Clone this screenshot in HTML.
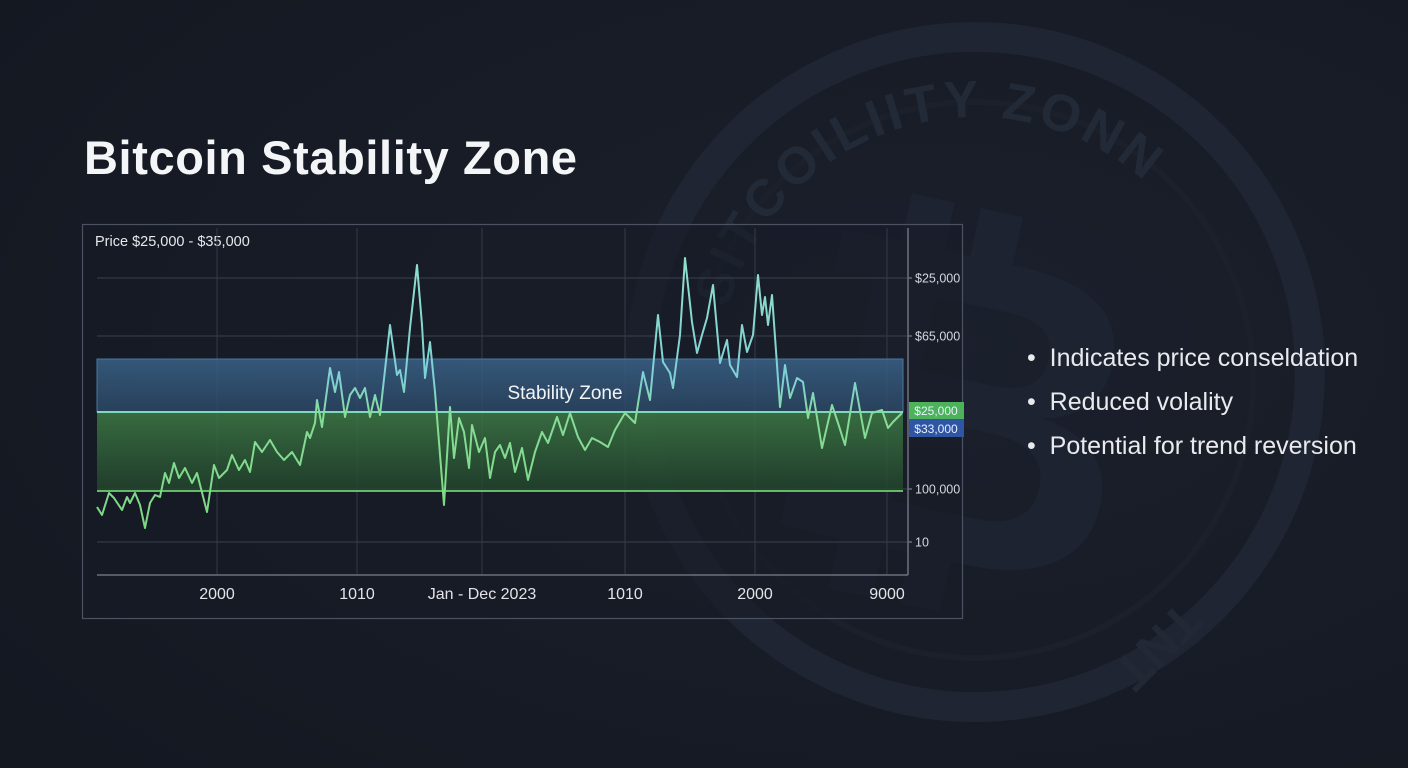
<!DOCTYPE html>
<html><head><meta charset="utf-8">
<style>
html,body{margin:0;padding:0;background:#161b25;width:1408px;height:768px;overflow:hidden;font-family:"Liberation Sans",sans-serif;}
#wrap{position:relative;width:1408px;height:768px;}
</style></head>
<body>
<div id="wrap">
<svg width="1408" height="768" viewBox="0 0 1408 768" style="position:absolute;left:0;top:0">
  <defs>
    <radialGradient id="bg" cx="0.65" cy="0.45" r="0.8">
      <stop offset="0" stop-color="#1b202c"/><stop offset="1" stop-color="#141821"/>
    </radialGradient>
    <linearGradient id="lineGrad" gradientUnits="userSpaceOnUse" x1="0" y1="255" x2="0" y2="530">
      <stop offset="0" stop-color="#8fe0c8"/>
      <stop offset="0.45" stop-color="#7fd0d6"/>
      <stop offset="0.58" stop-color="#86dd98"/>
      <stop offset="1" stop-color="#7cd880"/>
    </linearGradient>
    <linearGradient id="blueZone" x1="0" y1="0" x2="0" y2="1">
      <stop offset="0" stop-color="#3a6288" stop-opacity="0.85"/><stop offset="1" stop-color="#2c4a68" stop-opacity="0.8"/>
    </linearGradient>
    <linearGradient id="greenZone" x1="0" y1="0" x2="0" y2="1">
      <stop offset="0" stop-color="#3d7a45" stop-opacity="0.85"/><stop offset="1" stop-color="#22452c" stop-opacity="0.8"/>
    </linearGradient>
    <path id="arcTop" d="M 720 372 A 255 255 0 0 1 1230 372"/>
  </defs>
  <rect width="1408" height="768" fill="url(#bg)"/>
  <g>
    <circle cx="975" cy="372" r="335" fill="none" stroke="#1f2532" stroke-width="30"/>
    <circle cx="975" cy="380" r="278" fill="none" stroke="#1b202b" stroke-width="6"/>
    <text font-family="Liberation Sans,sans-serif" font-size="52" fill="#232a37" font-weight="bold" letter-spacing="4"><textPath href="#arcTop" startOffset="8%">SITCOILIITY ZONN</textPath></text>
    <text x="1180" y="600" font-size="50" fill="#222935" font-weight="bold" transform="rotate(135 1180 600)">TNT</text>
    <text x="960" y="560" font-size="440" fill="#1d2330" font-weight="bold" text-anchor="middle" transform="rotate(12 960 400)">₿</text>
  </g>
</svg>

<div style="position:absolute;left:84px;top:130px;font-size:47px;font-weight:bold;color:#f4f5f7;letter-spacing:0.6px;">Bitcoin Stability Zone</div>

<svg id="chart" width="1408" height="768" style="position:absolute;left:0;top:0"></svg>

<div style="position:absolute;left:1027px;top:344px;color:#e8eaee;font-size:25px;">
  <div style="height:44px;">•&nbsp;&nbsp;Indicates price conseldation</div>
  <div style="height:44px;">•&nbsp;&nbsp;Reduced volality</div>
  <div style="height:44px;">•&nbsp;&nbsp;Potential for trend reversion</div>
</div>

<script>
const times = [0,5,12,17,25,30,33,38,43,48,53,58,63,68,72,77,82,88,95,100,110,117,122,130,135,142,148,153,158,165,173,180,187,195,203,210,213,218,220,225,233,238,242,248,253,258,263,268,273,278,283,293,300,303,307,313,320,325,328,333,338,342,347,353,357,362,367,372,375,382,388,393,398,403,408,413,418,425,431,438,445,451,460,466,473,481,488,495,503,511,518,528,538,546,553,561,566,573,576,583,588,595,600,605,610,616,623,630,633,640,645,650,656,661,665,668,671,675,683,688,693,700,706,711,716,725,735,741,748,758,768,775,785,791,796,805];
const prices = [68,60,82,77,65,78,72,82,70,47,72,80,78,102,92,112,97,107,92,102,63,110,97,105,120,105,115,103,133,123,135,123,115,123,110,143,137,152,175,148,207,183,203,158,180,187,177,187,158,180,160,250,200,205,183,247,310,250,197,233,183,133,70,168,117,157,143,107,150,123,137,97,123,130,117,132,103,127,95,123,143,132,158,140,162,138,125,137,133,128,145,162,152,203,175,260,213,202,187,240,317,253,222,240,257,290,212,235,210,198,250,223,240,300,260,278,250,280,168,210,177,197,193,157,182,127,170,152,130,192,137,162,165,147,153,162];
const yTicks = [297, 239, 86, 33];
const yTickLabels = ["$25,000","$65,000","100,000","10"];
const xTicks = [120, 260, 385, 528, 658, 790];
const xTickLabels = ["2000","1010","Jan - Dec 2023","1010","2000","9000"];
const zoneTop = 216, zoneMid = 163, zoneBottom = 84;
const badgeValues = ["$25,000","$33,000"];

const svg = document.getElementById('chart');
const NS = 'http://www.w3.org/2000/svg';
const X0 = 97, X1 = 903, Y0 = 575;
const xs = t => X0 + t * (X1 - X0) / 806;
const ys = v => Y0 - v;
function mk(tag, attrs, parent){ const e=document.createElementNS(NS,tag); for(const k in attrs) e.setAttribute(k,attrs[k]); (parent||svg).appendChild(e); return e; }

let frame = mk('rect',{x:82.5,y:224.5,width:880,height:394,fill:'#171c27','fill-opacity':0.55,stroke:'#4c5262','stroke-width':1.2});


let cap = mk('text',{x:95,y:246,fill:'#e6e8ec','font-size':14.5,'font-family':'Liberation Sans, sans-serif'});
cap.textContent = 'Price $25,000 - $35,000';



yTicks.forEach((v,i)=>{
  const g = mk('line',{x1:97,x2:908,y1:ys(v),y2:ys(v),stroke:'#3a404d','stroke-width':1});
  
  
  const tk = mk('line',{x1:908,x2:912,y1:ys(v),y2:ys(v),stroke:'#8a909c'});
  
  
  const lb = mk('text',{x:915,y:ys(v)+4.5,fill:'#d4d7dd','font-size':12.5,'font-family':'Liberation Sans, sans-serif'});
  lb.textContent = yTickLabels[i];
  
  
});
xTicks.forEach((t,i)=>{
  const g = mk('line',{x1:xs(t),x2:xs(t),y1:228,y2:575,stroke:'#343a47','stroke-width':1});
  
  
  const lb = mk('text',{x:xs(t),y:599,fill:'#e2e4e8','font-size':16,'text-anchor':'middle','font-family':'Liberation Sans, sans-serif'});
  lb.textContent = xTickLabels[i];
  
  
});
let xa = mk('line',{x1:97,x2:908,y1:575,y2:575,stroke:'#6a707c','stroke-width':1.5});


let ya = mk('line',{x1:908,x2:908,y1:228,y2:575,stroke:'#6a707c','stroke-width':1.5});



let bz = mk('rect',{x:97,y:ys(zoneTop),width:806,height:zoneTop-zoneMid,fill:'url(#blueZone)',stroke:'#4a78a0','stroke-width':1});


let gz = mk('rect',{x:97,y:ys(zoneMid),width:806,height:zoneMid-zoneBottom,fill:'url(#greenZone)'});


let ml = mk('line',{x1:97,x2:903,y1:ys(zoneMid),y2:ys(zoneMid),stroke:'#7fd8b8','stroke-width':2});


let bl = mk('line',{x1:97,x2:903,y1:ys(zoneBottom),y2:ys(zoneBottom),stroke:'#6fcf70','stroke-width':1.8});


let zl = mk('text',{x:565,y:399,fill:'#f2f4f6','font-size':19,'text-anchor':'middle','font-family':'Liberation Sans, sans-serif'});
zl.textContent = 'Stability Zone';



let d = times.map((t,i)=>(i?'L':'M')+xs(t).toFixed(1)+' '+ys(prices[i]).toFixed(1)).join(' ');
let ln = mk('path',{d:d,fill:'none',stroke:'url(#lineGrad)','stroke-width':2,'stroke-linejoin':'round'});



let b1 = mk('rect',{x:909,y:402,width:55,height:17,fill:'#4cb35a'});


let b2 = mk('rect',{x:909,y:419,width:55,height:18,fill:'#2f56a4'});


[[badgeValues[0],415],[badgeValues[1],433]].forEach(([s,y])=>{
  const t = mk('text',{x:936,y:y,fill:'#e8f0ff','font-size':12,'text-anchor':'middle','font-family':'Liberation Sans, sans-serif'});
  t.textContent = s;
  
  
});
</script>
</div>
</body></html>
